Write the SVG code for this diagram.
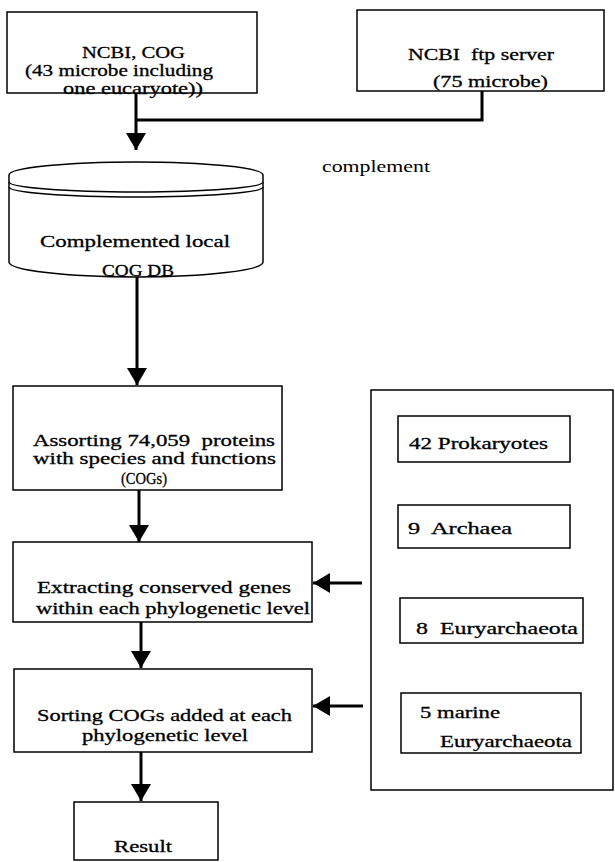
<svg xmlns="http://www.w3.org/2000/svg" width="615" height="862" viewBox="0 0 615 862">
<defs>
<style>
.box{fill:#fff;stroke:#000;stroke-width:1.5}
.t{font-family:"Liberation Serif","Times New Roman",serif;font-size:17px;fill:#000;stroke:#000;stroke-width:0.3;white-space:pre}
.s{font-family:"Liberation Serif","Times New Roman",serif;font-size:16.5px;fill:#000}
.c{fill:none;stroke:#000;stroke-width:3}
.cyl{fill:none;stroke:#000;stroke-width:1.5}
</style>
<marker id="ah" markerUnits="userSpaceOnUse" markerWidth="17" markerHeight="20" refX="17" refY="10" orient="auto" viewBox="0 0 17 20">
<path d="M0,0 L17,10 L0,20 z" fill="#000"/>
</marker>
</defs>
<rect width="615" height="862" fill="#fff"/>

<g id="connectors">
<polyline class="c" points="482,91 482,120 136,120"/>
<line class="c" x1="136" y1="93" x2="136" y2="150" marker-end="url(#ah)"/>
<line class="c" x1="137" y1="277" x2="137" y2="385" marker-end="url(#ah)"/>
<line class="c" x1="139" y1="490" x2="139" y2="542" marker-end="url(#ah)"/>
<line class="c" x1="141" y1="622" x2="141" y2="668" marker-end="url(#ah)"/>
<line class="c" x1="141" y1="752" x2="141" y2="801" marker-end="url(#ah)"/>
<line class="c" x1="472" y1="462" x2="472" y2="505" marker-end="url(#ah)"/>
<line class="c" x1="472" y1="548" x2="472" y2="597" marker-end="url(#ah)"/>
<line class="c" x1="475" y1="643" x2="475" y2="692" marker-end="url(#ah)"/>
<line class="c" x1="362" y1="583" x2="313" y2="583" marker-end="url(#ah)"/>
<line class="c" x1="363" y1="706" x2="313" y2="706" marker-end="url(#ah)"/>
</g>

<g id="ncbi-cog">
<rect class="box" x="7" y="12" width="250" height="81"/>
<text class="t" x="82" y="58" textLength="103" lengthAdjust="spacingAndGlyphs">NCBI, COG</text>
<text class="t" x="25" y="76" textLength="188" lengthAdjust="spacingAndGlyphs">(43 microbe including</text>
<text class="t" x="63" y="94" textLength="140" lengthAdjust="spacingAndGlyphs">one eucaryote))</text>
</g>

<g id="ncbi-ftp">
<rect class="box" x="357" y="10" width="247" height="81"/>
<text class="t" x="408" y="60" textLength="146" lengthAdjust="spacingAndGlyphs">NCBI  ftp server</text>
<text class="t" x="433" y="87" textLength="115" lengthAdjust="spacingAndGlyphs">(75 microbe)</text>
</g>

<g id="complement-label">
<text class="s" x="322" y="172" textLength="108" lengthAdjust="spacingAndGlyphs">complement</text>
</g>

<g id="local-db">
<path class="cyl" d="M9,175 A127,13 0 0 1 263,175"/>
<path class="cyl" d="M9,182 A127,10 0 0 0 263,182"/>
<path class="cyl" d="M9,187 A127,10 0 0 0 263,187"/>
<line class="cyl" x1="9" y1="175" x2="9" y2="262"/>
<line class="cyl" x1="263" y1="175" x2="263" y2="262"/>
<path class="cyl" d="M9,262 A127,15 0 0 0 263,262"/>
<text class="t" x="40" y="247" textLength="190" lengthAdjust="spacingAndGlyphs">Complemented local</text>
<text class="t" x="102" y="276" textLength="72" lengthAdjust="spacingAndGlyphs">COG DB</text>
</g>

<g id="assorting">
<rect class="box" x="13" y="386" width="269" height="104"/>
<text class="t" x="33" y="446" textLength="242" lengthAdjust="spacingAndGlyphs">Assorting 74,059  proteins</text>
<text class="t" x="33" y="464" textLength="243" lengthAdjust="spacingAndGlyphs">with species and functions</text>
<text class="t" x="121" y="484" textLength="46" lengthAdjust="spacingAndGlyphs">(COGs)</text>
</g>

<g id="extracting">
<rect class="box" x="13" y="542" width="299" height="80"/>
<text class="t" x="37" y="593" textLength="254" lengthAdjust="spacingAndGlyphs">Extracting conserved genes</text>
<text class="t" x="36" y="614" textLength="274" lengthAdjust="spacingAndGlyphs">within each phylogenetic level</text>
</g>

<g id="sorting">
<rect class="box" x="14" y="669" width="298" height="83"/>
<text class="t" x="37" y="721" textLength="255" lengthAdjust="spacingAndGlyphs">Sorting COGs added at each</text>
<text class="t" x="82" y="741" textLength="166" lengthAdjust="spacingAndGlyphs">phylogenetic level</text>
</g>

<g id="result">
<rect class="box" x="74" y="802" width="144" height="58"/>
<text class="t" x="114" y="852" textLength="58" lengthAdjust="spacingAndGlyphs">Result</text>
</g>

<g id="phylo-frame">
<rect class="box" x="371" y="390" width="242" height="400"/>
</g>

<g id="prokaryotes">
<rect class="box" x="398" y="416" width="172" height="46"/>
<text class="t" x="409" y="449" textLength="139" lengthAdjust="spacingAndGlyphs">42 Prokaryotes</text>
</g>

<g id="archaea">
<rect class="box" x="398" y="505" width="172" height="43"/>
<text class="t" x="408" y="534" textLength="104" lengthAdjust="spacingAndGlyphs">9  Archaea</text>
</g>

<g id="euryarchaeota">
<rect class="box" x="400" y="598" width="183" height="45"/>
<text class="t" x="416" y="634" textLength="162" lengthAdjust="spacingAndGlyphs">8  Euryarchaeota</text>
</g>

<g id="marine-euryarchaeota">
<rect class="box" x="401" y="693" width="180" height="60"/>
<text class="t" x="420" y="718" textLength="80" lengthAdjust="spacingAndGlyphs">5 marine</text>
<text class="t" x="440" y="747" textLength="132" lengthAdjust="spacingAndGlyphs">Euryarchaeota</text>
</g>
</svg>
